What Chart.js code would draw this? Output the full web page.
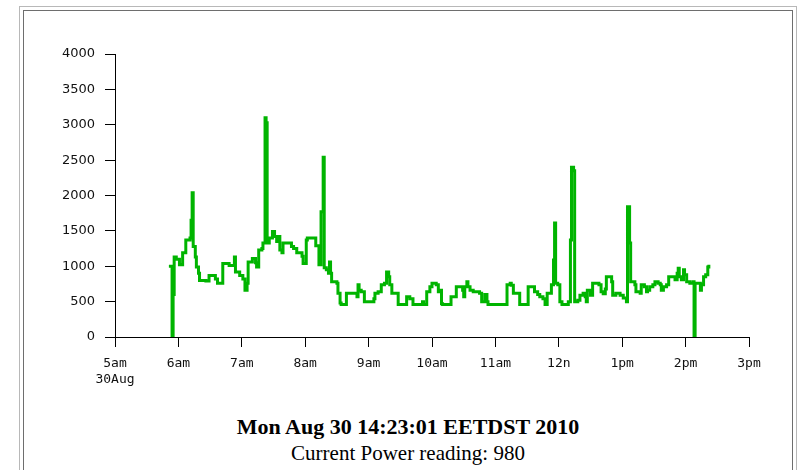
<!DOCTYPE html>
<html lang="en">
  <head>
    <meta charset="UTF-8" />
    <title>Power reading</title>
    <script src="https://cdn.jsdelivr.net/npm/chart.js"></script>
    <style>
      body {
        margin: 0;
        background: #fff;
        width: 801px;
        height: 470px;
        overflow: hidden;
        position: relative;
      }
      /* bevelled frame round the page */
      #outer {
        position: absolute;
        left: 19px;
        top: 6px;
        width: 776px;
        height: 480px;
        border: 1px solid #b8b8b8;
      }
      #inner {
        position: absolute;
        left: 23px;
        top: 10px;
        width: 768px;
        height: 480px;
        border: 1px solid #6e6e6e;
      }
      #wrap {
        position: absolute;
        left: 0;
        top: 0;
        width: 801px;
        height: 400px;
      }
      .stamp {
        position: absolute;
        left: 0;
        width: 816px;
        text-align: center;
        font-family: "Liberation Serif", serif;
        color: #000;
        line-height: 1;
      }
      #when {
        top: 416px;
        font-size: 22px;
        font-weight: bold;
      }
      #reading {
        top: 443px;
        font-size: 21px;
      }
    </style>
  </head>
  <body>
    <div id="outer"></div>
    <div id="inner"></div>
    <div id="wrap"><canvas id="powerChart"></canvas></div>
    <div class="stamp" id="when">Mon Aug 30 14:23:01 EETDST 2010</div>
    <div class="stamp" id="reading">Current Power reading: 980</div>

    <script>
      // readings, one entry per change of value (stepped line)
      const times = [
        "05:51", "05:54", "05:55", "05:56", "05:58", "06:01", "06:04", "06:07", "06:11", "06:12",
        "06:13", "06:14", "06:16", "06:17", "06:19", "06:20", "06:26", "06:29", "06:35", "06:37",
        "06:42", "06:48", "06:53", "06:54", "06:58", "07:01", "07:03", "07:05", "07:06", "07:10",
        "07:13", "07:14", "07:16", "07:19", "07:20", "07:22", "07:23", "07:24", "07:26", "07:29",
        "07:31", "07:33", "07:35", "07:36", "07:38", "07:39", "07:47", "07:49", "07:52", "07:57",
        "07:58", "08:01", "08:02", "08:10", "08:13", "08:15", "08:17", "08:18", "08:20", "08:22",
        "08:23", "08:24", "08:25", "08:30", "08:31", "08:33", "08:34", "08:39", "08:49", "08:50",
        "08:51", "08:53", "08:56", "09:05", "09:06", "09:09", "09:12", "09:15", "09:17", "09:19",
        "09:20", "09:22", "09:28", "09:36", "09:39", "09:42", "09:51", "09:52", "09:55", "09:58",
        "10:00", "10:04", "10:06", "10:08", "10:09", "10:10", "10:18", "10:23", "10:29", "10:30",
        "10:31", "10:33", "10:34", "10:36", "10:39", "10:45", "10:47", "10:50", "10:52", "10:53",
        "11:11", "11:14", "11:15", "11:17", "11:23", "11:31", "11:37", "11:40", "11:42", "11:45",
        "11:47", "11:49", "11:53", "11:55", "11:56", "11:57", "11:59", "12:01", "12:03", "12:09",
        "12:11", "12:12", "12:14", "12:15", "12:18", "12:20", "12:23", "12:25", "12:26", "12:27",
        "12:30", "12:32", "12:38", "12:40", "12:42", "12:44", "12:45", "12:50", "12:51", "12:54",
        "12:58", "13:01", "13:04", "13:05", "13:07", "13:08", "13:12", "13:13", "13:17", "13:18",
        "13:21", "13:23", "13:24", "13:26", "13:29", "13:31", "13:34", "13:36", "13:37", "13:39",
        "13:42", "13:44", "13:50", "13:52", "13:53", "13:54", "13:56", "13:58", "13:59", "14:01",
        "14:04", "14:07", "14:08", "14:09", "14:14", "14:15", "14:17", "14:19", "14:21", "14:22"
      ];
      const watts = [
        1000, 0, 600, 1130, 1100, 1020, 1190, 1370, 1400, 1650,
        2040, 1280, 1130, 990, 900, 800, 790, 870, 820, 760,
        1040, 1010, 1130, 920, 870, 820, 660, 760, 1060, 1110,
        1050, 990, 1230, 1250, 1330, 3100, 3030, 1330, 1400, 1490,
        1420, 1350, 1420, 1230, 1190, 1330, 1280, 1250, 1190, 1140,
        1040, 1370, 1400, 1290, 1020, 1770, 2540, 980, 950, 900,
        1060, 900, 780, 760, 620, 480, 460, 620, 570, 740,
        660, 640, 500, 540, 620, 640, 740, 760, 920, 850,
        740, 620, 460, 570, 540, 460, 500, 460, 640, 710,
        760, 740, 640, 660, 470, 460, 570, 710, 660, 570,
        710, 780, 710, 660, 640, 620, 500, 600, 500, 460,
        740, 760, 730, 620, 460, 710, 640, 600, 570, 540,
        460, 620, 740, 1090, 1610, 760, 740, 500, 460, 500,
        1370, 2400, 2350, 500, 520, 590, 620, 570, 500, 660,
        590, 760, 740, 640, 610, 680, 850, 780, 590, 620,
        590, 550, 500, 1840, 1330, 780, 740, 640, 620, 740,
        710, 640, 660, 710, 740, 780, 760, 740, 660, 710,
        740, 850, 810, 900, 970, 850, 810, 950, 880, 780,
        760, 780, 0, 760, 660, 740, 850, 880, 990, 1020
      ];
      const yTicks = [0, 500, 1000, 1500, 2000, 2500, 3000, 3500, 4000];
      const xTickLabels = [
        ["5am", "30Aug"], "6am", "7am", "8am", "9am", "10am",
        "11am", "12n", "1pm", "2pm", "3pm"
      ];

      function toMinutes(t) {
        const parts = t.split(":");
        return Number(parts[0]) * 60 + Number(parts[1]);
      }

      const points = times.map((t, i) => ({ x: toMinutes(t), y: watts[i] }));

      new Chart(document.getElementById("powerChart"), {
        type: "line",
        data: {
          datasets: [
            {
              data: points,
              borderColor: "#00b400",
              borderWidth: 3,
              pointRadius: 0,
              stepped: "before",
              fill: false,
            },
          ],
        },
        options: {
          responsive: true,
          maintainAspectRatio: false,
          animation: false,
          events: [],
          layout: {
            padding: { left: 35, right: 52, top: 54, bottom: 13 },
          },
          plugins: {
            legend: { display: false },
            tooltip: { enabled: false },
          },
          scales: {
            x: {
              type: "linear",
              min: 300,
              max: 900,
              afterBuildTicks: (scale) => {
                scale.ticks = xTickLabels.map((_, i) => ({ value: 300 + i * 60 }));
              },
              afterFit: (scale) => {
                scale.height = 50;
              },
              grid: {
                drawOnChartArea: false,
                drawTicks: true,
                tickLength: 10,
                color: "#000",
              },
              border: { display: true, color: "#000", width: 1 },
              ticks: {
                autoSkip: false,
                maxRotation: 0,
                padding: 9,
                color: "#111",
                font: { family: "DejaVu Sans Mono", size: 13 },
                callback: (value) => xTickLabels[(value - 300) / 60],
              },
            },
            y: {
              min: 0,
              max: 4000,
              afterBuildTicks: (scale) => {
                scale.ticks = yTicks.map((v) => ({ value: v }));
              },
              afterFit: (scale) => {
                scale.width = 80;
              },
              grid: {
                drawOnChartArea: false,
                drawTicks: true,
                tickLength: 10,
                color: "#000",
              },
              border: { display: true, color: "#000", width: 1 },
              ticks: {
                padding: 10,
                color: "#111",
                font: { family: "DejaVu Sans", size: 13 },
                callback: (value) => String(value),
              },
            },
          },
        },
      });
    </script>
  </body>
</html>
